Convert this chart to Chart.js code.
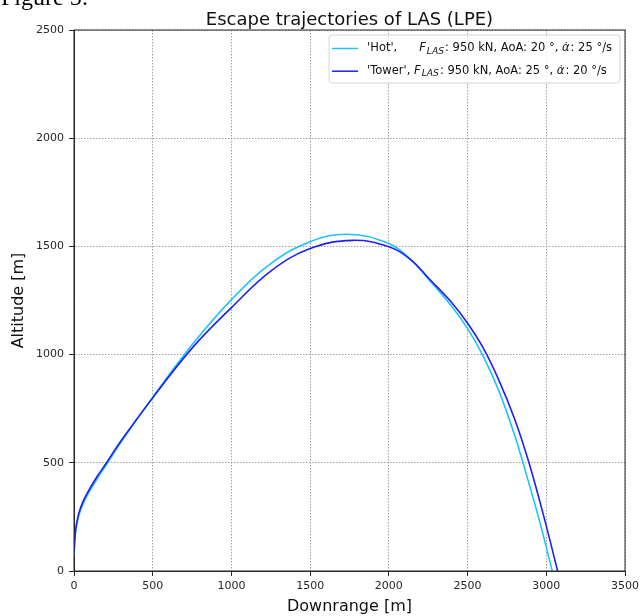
<!DOCTYPE html>
<html>
<head>
<meta charset="utf-8">
<title>Escape trajectories of LAS (LPE)</title>
<script src="https://cdn.jsdelivr.net/npm/chart.js@4.4.0/dist/chart.umd.min.js"></script>
<style>
  html, body { margin: 0; padding: 0; background: #fff; }
  #wrap { position: relative; width: 643px; height: 616px; overflow: hidden; }
  #trajChart { position: absolute; left: 0; top: 0; }
  #fig { position: absolute; left: 1px; top: -15px; font: 24px "Liberation Serif", serif; line-height: 24px; color: #000; white-space: nowrap; }
</style>
</head>
<body>
<div id="wrap">
  <canvas id="trajChart" width="643" height="616"></canvas>
  <div id="fig">Figure 5:</div>
</div>
<script>
// trajectory samples, downrange [m] vs altitude [m]
const hotDownrange = [0, 10, 30, 60, 100, 150, 200, 300, 500, 750, 1000, 1250, 1500, 1740, 2000, 2140, 2250, 2400, 2500, 2600, 2700, 2800, 2852, 2950, 3038];
const hotAltitude  = [75, 180, 255, 315, 370, 430, 485, 597, 803, 1045, 1254, 1420, 1522, 1556, 1513, 1438, 1350, 1222, 1120, 992, 830, 625, 500, 250, 0];

const towerDownrange = [0, 10, 30, 60, 100, 150, 200, 300, 500, 750, 1000, 1250, 1500, 1770, 2000, 2140, 2250, 2400, 2500, 2600, 2700, 2800, 2890, 2985, 3072];
const towerAltitude  = [85, 190, 265, 325, 380, 440, 493, 603, 800, 1030, 1217, 1386, 1490, 1528, 1498, 1438, 1355, 1240, 1145, 1030, 880, 700, 500, 250, 0];

// abort cases
const caseNames = ["'Hot',", "'Tower',"];
const caseGap = ['      ', ' '];
const thrustKN = [950, 950];
const aoaDeg = [20, 25];
const pitchRate = [25, 20];

const xTicks = [0, 500, 1000, 1500, 2000, 2500, 3000, 3500];
const yTicks = [0, 500, 1000, 1500, 2000, 2500];

const chartTitle = 'Escape trajectories of LAS (LPE)';
const FONT = '"DejaVu Sans", sans-serif';

function toPoints(xs, ys) {
    return xs.map((x, i) => ({ x: x, y: ys[i] }));
}

function legendParts(i) {
    return [
        { text: caseNames[i] + caseGap[i] },
        { text: 'F', italic: true },
        { text: 'LAS', italic: true, sub: true },
        { text: ': ' + thrustKN[i] + ' kN, AoA: ' + aoaDeg[i] + ' °, ' },
        { text: 'α\u0307', italic: true },
        { text: ': ' + pitchRate[i] + ' °/s' }
    ];
}

// box around the axes + title
const framePlugin = {
    id: 'frame',
    afterDraw(chart) {
        const { ctx, chartArea: a } = chart;
        ctx.save();
        ctx.strokeStyle = '#262626';
        ctx.lineWidth = 1;
        ctx.strokeRect(a.left, a.top, a.right - a.left, a.bottom - a.top);

        ctx.fillStyle = '#111';
        ctx.font = '18px ' + FONT;
        ctx.textAlign = 'center';
        ctx.textBaseline = 'alphabetic';
        ctx.fillText(chartTitle, (a.left + a.right) / 2, 25);
        ctx.restore();
    }
};

// legend with the subscript / dotted alpha labels
const mathLegend = {
    id: 'mathLegend',
    afterDraw(chart) {
        const { ctx, chartArea: a } = chart;
        const fs = 11.5;
        const subFs = fs * 0.8;
        const setFont = p => {
            const size = p.sub ? subFs : fs;
            ctx.font = (p.italic ? 'italic ' : '') + size + 'px ' + FONT;
        };

        ctx.save();
        const rows = chart.data.datasets.map((ds, i) => {
            const parts = legendParts(i);
            let w = 0;
            parts.forEach(p => {
                setFont(p);
                p.w = ctx.measureText(p.text).width + (p.italic ? 1 : 0);
                w += p.w;
            });
            return { color: ds.borderColor, parts: parts, width: w };
        });
        const textW = Math.max(...rows.map(r => r.width));

        const boxRight = a.right - 5;
        const boxTop = a.top + 5;
        const boxW = 3 + 26 + 9 + textW + 8;
        const boxH = 48;
        const boxLeft = boxRight - boxW;

        ctx.beginPath();
        ctx.roundRect(boxLeft, boxTop, boxW, boxH, 3);
        ctx.fillStyle = 'rgba(255,255,255,0.85)';
        ctx.fill();
        ctx.strokeStyle = '#d4d4d4';
        ctx.lineWidth = 1;
        ctx.stroke();

        rows.forEach((r, i) => {
            const y = boxTop + 13.5 + i * 22.7;
            ctx.strokeStyle = r.color;
            ctx.lineWidth = 1.5;
            ctx.beginPath();
            ctx.moveTo(boxLeft + 3, y);
            ctx.lineTo(boxLeft + 29, y);
            ctx.stroke();

            let x = boxLeft + 38;
            ctx.fillStyle = '#111';
            ctx.textAlign = 'left';
            ctx.textBaseline = 'middle';
            r.parts.forEach(p => {
                setFont(p);
                ctx.fillText(p.text, x, p.sub ? y + fs * 0.25 : y);
                x += p.w;
            });
        });
        ctx.restore();
    }
};

const tickFont = { family: FONT, size: 11 };
const gridOpts = {
    color: '#8c8c8c',
    lineWidth: 0.8,
    tickColor: '#262626',
    tickWidth: 1,
    tickLength: 5,
    tickBorderDash: []
};

const ctx = document.getElementById('trajChart').getContext('2d');
const trajChart = new Chart(ctx, {
    type: 'line',
    data: {
        datasets: [{
            label: caseNames[0],
            data: toPoints(hotDownrange, hotAltitude),
            borderColor: '#1ec3fa',
            borderWidth: 1.6,
            pointRadius: 0,
            fill: false,
            tension: 0.4,
            order: 1
        }, {
            label: caseNames[1],
            data: toPoints(towerDownrange, towerAltitude),
            borderColor: '#1f1ff5',
            borderWidth: 1.6,
            pointRadius: 0,
            fill: false,
            tension: 0.4,
            order: 0
        }]
    },
    options: {
        responsive: false,
        animation: false,
        events: [],
        layout: { padding: { left: 0, right: 15, top: 30, bottom: 0 } },
        plugins: {
            legend: { display: false },
            title: { display: false },
            tooltip: { enabled: false }
        },
        scales: {
            x: {
                type: 'linear',
                min: 0,
                max: 3500,
                afterBuildTicks: s => { s.ticks = xTicks.map(v => ({ value: v })); },
                afterFit: s => { s.height = 45; },
                ticks: { font: tickFont, color: '#262626', padding: 4, maxRotation: 0, callback: v => String(v) },
                grid: gridOpts,
                border: { color: '#262626', width: 1, dash: [1.5, 1.5] },
                title: {
                    display: true,
                    text: 'Downrange [m]',
                    font: { family: FONT, size: 16 },
                    color: '#111',
                    padding: { top: 0, bottom: 0 }
                }
            },
            y: {
                type: 'linear',
                min: 0,
                max: 2500,
                afterBuildTicks: s => { s.ticks = yTicks.map(v => ({ value: v })); },
                afterFit: s => { s.width = 74; },
                ticks: { font: tickFont, color: '#262626', padding: 5, callback: v => String(v) },
                grid: gridOpts,
                border: { color: '#262626', width: 1, dash: [1.5, 1.5] },
                title: {
                    display: true,
                    text: 'Altitude [m]',
                    font: { family: FONT, size: 16 },
                    color: '#111',
                    padding: { top: 9, bottom: 0 }
                }
            }
        }
    },
    plugins: [mathLegend, framePlugin]
});
</script>
</body>
</html>
